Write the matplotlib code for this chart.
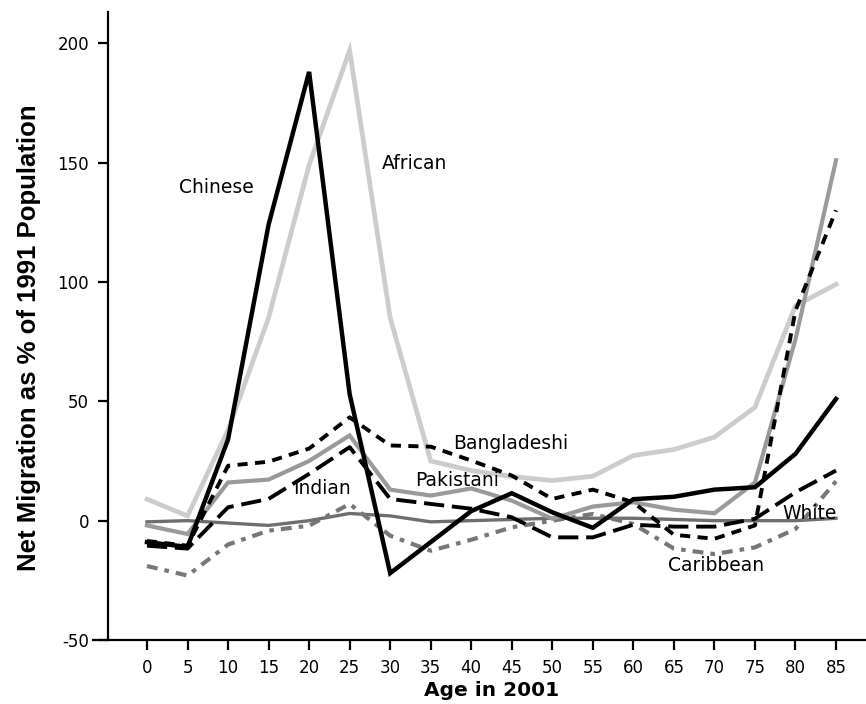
import matplotlib
matplotlib.use("Agg")
import matplotlib.pyplot as plt

ages = [0, 5, 10, 15, 20, 25, 30, 35, 40, 45, 50, 55, 60, 65, 70, 75, 80, 85]

chinese     = [-9, -11, 34, 124, 188, 53, -22, -9, 4, 11.5, 3.5, -3, 9, 10, 13, 14, 28, 51]
african     = [9, 2, 38, 85, 149, 197, 85, 25, 21, 18.5, 16.8, 18.6, 27.3, 29.8, 35, 47.5, 90, 99]
bangladeshi = [-8.5, -10.5, 23, 24.7, 30.2, 43.3, 31.5, 31, 25.2, 18.9, 9.1, 13, 7.7, -5.9, -7.6, -2, 88, 130]
indian      = [-2, -5.6, 16, 17.2, 25, 35.7, 13, 10.5, 13.5, 8.4, 0.8, 5.9, 7.7, 4.6, 3.1, 16, 76, 151]
pakistani   = [-10.5, -11.7, 5.6, 9.1, 19.6, 30.8, 9.1, 7, 5, 1.4, -7, -7, -1.7, -2.5, -2.5, 0.8, 11.9, 21]
white       = [-0.5, 0, -1, -2, 0, 3, 2, -0.5, 0, 0.5, 1, 1, 1, 0.5, 0, 0, 0, 1]
caribbean   = [-19, -23, -10, -4.2, -2.1, 7, -6.3, -12.6, -8, -2.8, 0, 2.8, -1.4, -11.7, -14, -11.2, -3.5, 16.5]

label_names = ["Chinese", "African", "Bangladeshi", "Pakistani", "Indian", "White", "Caribbean"]
label_x = [8.6, 33.0, 44.9, 38.3, 21.6, 81.7, 70.2]
label_y = [139.5, 149.7, 32.2, 16.8, 13.3, 3.1, -18.9]

yticks = [-50, 0, 50, 100, 150, 200]

fig = plt.figure(figsize=(8.66, 7.04), dpi=100)
ax = fig.add_axes([93/866, 1 - 640/704, (866 - 93)/866, (640 - 12)/704])

WIDE = "DejaVu Sans"
ARIAL = "Liberation Sans"

# spines first (set_position resets the ticks)
for s in ["top", "right"]:
    ax.spines[s].set_visible(False)
ax.spines["left"].set_position(("data", -4.83))
ax.spines["left"].set_linewidth(1.6)
ax.spines["bottom"].set_linewidth(1.6)

ax.plot(ages, white, color="#6e6e6e", lw=2.4, solid_joinstyle="miter", zorder=2)
ax.plot(ages, caribbean, color="#777777", lw=3.0, dashes=(2.6, 1.7, 1.1, 1.7), zorder=2)
ax.plot(ages, african, color="#cccccc", lw=3.4, solid_joinstyle="miter", zorder=2)
ax.plot(ages, indian, color="#9a9a9a", lw=3.0, solid_joinstyle="miter", zorder=3)
ax.plot(ages, pakistani, color="black", lw=2.8, dashes=(5.2, 2.0), zorder=4)
ax.plot(ages, bangladeshi, color="black", lw=2.8, dashes=(2.6, 1.9), zorder=4)
ax.plot(ages, chinese, color="black", lw=3.2, solid_joinstyle="miter", zorder=5)

for name, lx, ly in zip(label_names, label_x, label_y):
    ax.text(lx, ly, name, ha="center", va="center", fontsize=13.5,
            family=WIDE, color="black", zorder=6)

ax.set_xlim(-6.66, 88.7)
ax.set_ylim(-50, 213.1)
ax.set_xticks(ages)
ax.set_xticklabels([str(a) for a in ages])
ax.set_yticks(yticks)
ax.set_yticklabels([str(v) for v in yticks])
ax.tick_params(axis="both", direction="out", length=7.5, width=1.6, pad=6,
               labelsize=12, labelfontfamily=WIDE)

ax.set_xlabel("Age in 2001", fontsize=14.5, fontweight="bold", family=WIDE)
ax.xaxis.set_label_coords((42.5 + 6.66) / (88.7 + 6.66), -0.066)

ylab = ax.set_ylabel("Net Migration as % of 1991 Population", fontsize=18.5,
                     fontweight="bold", family=ARIAL)
ylab.set_va("center")
ylab.set_rotation_mode("anchor")
ax.yaxis.set_label_coords((29 - 93) / 773, (640 - 338) / 628)

fig.savefig("out.png", dpi=100)
